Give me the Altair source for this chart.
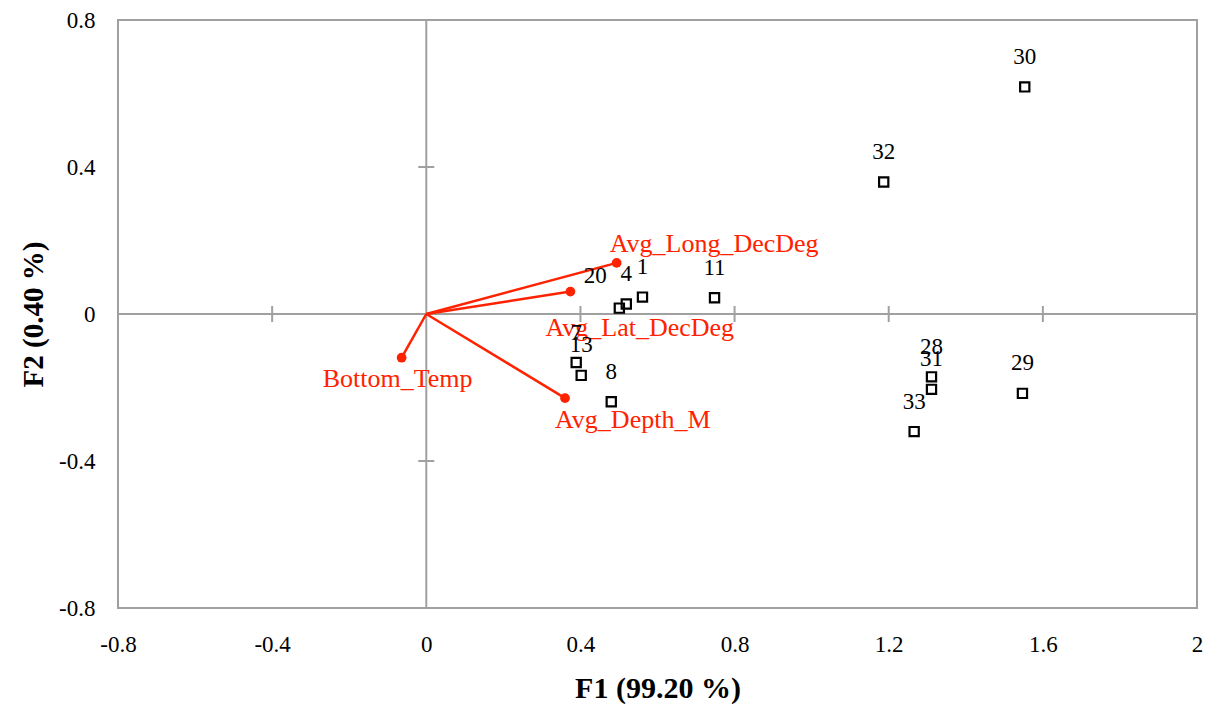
import altair as alt
import pandas as pd

# Observations (F1, F2)
obs_labels = ["30", "32", "11", "1", "4", "20", "7", "13", "8", "28", "31", "33", "29"]
obs_f1 = [1.553, 1.187, 0.748, 0.561, 0.519, 0.501, 0.389, 0.402, 0.480, 1.311, 1.311, 1.266, 1.547]
obs_f2 = [0.618, 0.359, 0.044, 0.046, 0.027, 0.016, -0.132, -0.167, -0.239, -0.171, -0.205, -0.320, -0.216]

# Variables (loadings)
var_names = ["Avg_Long_DecDeg", "Avg_Lat_DecDeg", "Bottom_Temp", "Avg_Depth_M"]
var_f1 = [0.494, 0.374, -0.064, 0.360]
var_f2 = [0.139, 0.061, -0.119, -0.229]

x_ticks = [-0.8, -0.4, 0, 0.4, 0.8, 1.2, 1.6, 2]
y_ticks = [-0.8, -0.4, 0, 0.4, 0.8]
x_cross_ticks = [-0.4, 0.4, 0.8, 1.2, 1.6]
y_cross_ticks = [-0.4, 0.4]

obs = pd.DataFrame({"label": obs_labels, "F1": obs_f1, "F2": obs_f2})
var = pd.DataFrame({"name": var_names, "F1": var_f1, "F2": var_f2})

FONT = "Liberation Serif"
RED = "#ff2200"
GRAY = "#a0a0a0"
LABEL_EXPR = "datum.value < 0 ? '-' + format(-datum.value, '~g') : format(datum.value, '~g')"

xs = alt.Scale(domain=[-0.8, 2], nice=False, zero=False)
ys = alt.Scale(domain=[-0.8, 0.8], nice=False, zero=False)

x_axis = alt.Axis(values=x_ticks, grid=False, domain=False, ticks=False, tickSize=0,
                  labelPadding=25, labelFontSize=23, labelFont=FONT, labelColor="black",
                  title="F1 (99.20 %)", titleFont=FONT, titleFontSize=30, titleFontWeight="bold",
                  titleColor="black", titleY=80, titleBaseline="middle", labelFlush=False,
                  labelExpr=LABEL_EXPR)
y_axis = alt.Axis(values=y_ticks, grid=False, domain=False, ticks=False, tickSize=0,
                  labelPadding=23, labelFontSize=23, labelFont=FONT, labelColor="black",
                  title="F2 (0.40 %)", titleFont=FONT, titleFontSize=29, titleFontWeight="bold",
                  titleColor="black", titleX=-85, titleY=294, titleBaseline="middle",
                  titleAlign="center", titleAngle=270, labelFlush=False, labelExpr=LABEL_EXPR)

base = alt.Chart(obs)

# zero lines
zero_x = alt.Chart(pd.DataFrame({"v": [0]})).mark_rule(color=GRAY, strokeWidth=2).encode(
    x=alt.X("v:Q", scale=xs, axis=x_axis))
zero_y = alt.Chart(pd.DataFrame({"v": [0]})).mark_rule(color=GRAY, strokeWidth=2).encode(
    y=alt.Y("v:Q", scale=ys, axis=y_axis))

xt = alt.Chart(pd.DataFrame({"v": x_cross_ticks})).mark_tick(
    orient="vertical", size=16, thickness=2, color=GRAY, opacity=1).encode(
    x=alt.X("v:Q", scale=xs), y=alt.datum(0, scale=ys))
yt = alt.Chart(pd.DataFrame({"v": y_cross_ticks})).mark_tick(
    orient="horizontal", size=16, thickness=2, color=GRAY, opacity=1).encode(
    y=alt.Y("v:Q", scale=ys), x=alt.datum(0, scale=xs))

# observations
pts = base.mark_point(shape="square", filled=False, size=85, strokeWidth=2.2, color="black",
                      opacity=1).encode(
    x=alt.X("F1:Q", scale=xs), y=alt.Y("F2:Q", scale=ys))
lbl_main = base.transform_filter(alt.datum.label != "20").mark_text(
    font=FONT, fontSize=23, color="black", dy=-30, baseline="middle").encode(
    x=alt.X("F1:Q", scale=xs), y=alt.Y("F2:Q", scale=ys), text="label:N")
lbl_20 = base.transform_filter(alt.datum.label == "20").mark_text(
    font=FONT, fontSize=23, color="black", dx=-24, dy=-32, baseline="middle").encode(
    x=alt.X("F1:Q", scale=xs), y=alt.Y("F2:Q", scale=ys), text="label:N")

# vectors
vbase = alt.Chart(var)
vlines = vbase.mark_rule(color=RED, strokeWidth=2.5).encode(
    x=alt.X("F1:Q", scale=xs), y=alt.Y("F2:Q", scale=ys),
    x2=alt.datum(0), y2=alt.datum(0))
vdots = vbase.mark_circle(color=RED, size=95, opacity=1).encode(
    x=alt.X("F1:Q", scale=xs), y=alt.Y("F2:Q", scale=ys))

offsets = {
    "Avg_Long_DecDeg": dict(align="left", dx=-7, dy=-19),
    "Avg_Lat_DecDeg": dict(align="left", dx=-25, dy=36),
    "Bottom_Temp": dict(align="center", dx=-4, dy=21),
    "Avg_Depth_M": dict(align="left", dx=-10, dy=22),
}
vlabels = []
for name, o in offsets.items():
    vlabels.append(vbase.transform_filter(alt.datum.name == name).mark_text(
        font=FONT, fontSize=26, color=RED, baseline="middle", **o).encode(
        x=alt.X("F1:Q", scale=xs), y=alt.Y("F2:Q", scale=ys), text="name:N"))

chart = alt.layer(zero_x, zero_y, xt, yt, vlines, vdots, *vlabels, pts, lbl_main, lbl_20).properties(
    width=1079, height=588,
    autosize=alt.AutoSizeParams(type="none"),
    padding={"left": 118, "top": 20, "right": 11, "bottom": 96},
    background="white",
).configure_view(stroke=GRAY, strokeWidth=2)

chart.save("out.html", embed_options={"renderer": "svg", "actions": False})
